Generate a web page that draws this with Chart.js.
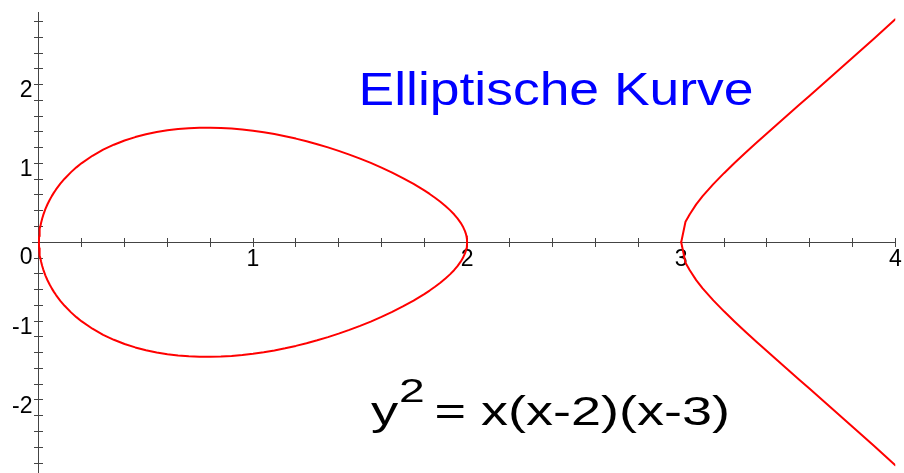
<!DOCTYPE html>
<html>
<head>
<meta charset="utf-8">
<script src="https://cdn.jsdelivr.net/npm/chart.js@4/dist/chart.umd.min.js"></script>
<style>
  html, body { margin: 0; padding: 0; background: #ffffff; }
  #wrap { width: 904px; height: 473px; }
</style>
</head>
<body>
<div id="wrap"><canvas id="c" width="904" height="473"></canvas></div>
<script>
// ---- data ----
const ovalX = [0, 0.001, 0.002, 0.003, 0.005, 0.007, 0.01, 0.015, 0.02, 0.03, 0.04, 0.05, 0.06, 0.07, 0.08, 0.1, 0.12, 0.15, 0.175, 0.2, 0.25, 0.3, 0.35, 0.4, 0.45, 0.5, 0.55, 0.6, 0.65, 0.7, 0.75, 0.8, 0.85, 0.9, 0.95, 1.0, 1.05, 1.1, 1.15, 1.2, 1.25, 1.3, 1.35, 1.4, 1.45, 1.5, 1.55, 1.6, 1.65, 1.7, 1.75, 1.8, 1.825, 1.85, 1.875, 1.9, 1.92, 1.94, 1.955, 1.97, 1.98, 1.99, 1.994, 1.997, 1.999, 2];
const ovalUpperY = [0, 0.0774, 0.1095, 0.134, 0.1728, 0.2043, 0.2439, 0.2981, 0.3435, 0.419, 0.4817, 0.5363, 0.585, 0.6292, 0.6697, 0.7423, 0.8061, 0.8893, 0.9499, 1.004, 1.0969, 1.1735, 1.2371, 1.29, 1.3337, 1.3693, 1.3978, 1.4199, 1.436, 1.4467, 1.4524, 1.4533, 1.4497, 1.4419, 1.43, 1.4142, 1.3947, 1.3715, 1.3448, 1.3145, 1.2809, 1.2438, 1.2033, 1.1593, 1.1118, 1.0607, 1.0057, 0.9466, 0.883, 0.8142, 0.7395, 0.6573, 0.6126, 0.5649, 0.5135, 0.4572, 0.4073, 0.3513, 0.3032, 0.2467, 0.201, 0.1418, 0.1097, 0.0775, 0.0447, 0];
const ovalLowerY = [0, -0.0774, -0.1095, -0.134, -0.1728, -0.2043, -0.2439, -0.2981, -0.3435, -0.419, -0.4817, -0.5363, -0.585, -0.6292, -0.6697, -0.7423, -0.8061, -0.8893, -0.9499, -1.004, -1.0969, -1.1735, -1.2371, -1.29, -1.3337, -1.3693, -1.3978, -1.4199, -1.436, -1.4467, -1.4524, -1.4533, -1.4497, -1.4419, -1.43, -1.4142, -1.3947, -1.3715, -1.3448, -1.3145, -1.2809, -1.2438, -1.2033, -1.1593, -1.1118, -1.0607, -1.0057, -0.9466, -0.883, -0.8142, -0.7395, -0.6573, -0.6126, -0.5649, -0.5135, -0.4572, -0.4073, -0.3513, -0.3032, -0.2467, -0.201, -0.1418, -0.1097, -0.0775, -0.0447, 0];

const branchX = [3, 3.02, 3.04, 3.07, 3.1, 3.15, 3.2, 3.25, 3.3, 3.35, 3.4, 3.45, 3.5, 3.55, 3.6, 3.7, 3.8, 3.9, 4.0];
const branchUpperY = [0, 0.26, 0.356, 0.48, 0.584, 0.737, 0.876, 1.008, 1.135, 1.258, 1.38, 1.5, 1.62, 1.74, 1.859, 2.098, 2.339, 2.582, 2.828];
const branchLowerY = [0, -0.26, -0.356, -0.48, -0.584, -0.737, -0.876, -1.008, -1.135, -1.258, -1.38, -1.5, -1.62, -1.74, -1.859, -2.098, -2.339, -2.582, -2.828];

// ---- ticks and labels ----
const xTickValues = [0.2, 0.4, 0.6, 0.8, 1, 1.2, 1.4, 1.6, 1.8, 2, 2.2, 2.4, 2.6, 2.8, 3, 3.2, 3.4, 3.6, 3.8, 4];
const yTickValues = [-2.8, -2.6, -2.4, -2.2, -2, -1.8, -1.6, -1.4, -1.2, -1, -0.8, -0.6, -0.4, -0.2, 0, 0.2, 0.4, 0.6, 0.8, 1, 1.2, 1.4, 1.6, 1.8, 2, 2.2, 2.4, 2.6, 2.8];
const xLabelValues = [1, 2, 3, 4];
const xLabelTexts = ['1', '2', '3', '4'];
const yLabelValues = [-2, -1, 1, 2];
const yLabelTexts = ['-2', '-1', '1', '2'];
const originTickValues = [0];
const originLabelTexts = ['0'];

const titleText = 'Elliptische Kurve';
const formulaBase = 'y';
const formulaSup = '2';
const formulaRest = '= x(x-2)(x-3)';

// ---- helpers ----
function pts(xs, ys) { return xs.map((x, i) => ({ x: x, y: ys[i] })); }
function labelFor(values, texts, v, suffix) {
  for (let i = 0; i < values.length; i++) {
    if (Math.abs(values[i] - v) < 1e-6) return texts[i] + suffix;
  }
  return '';
}

const FONT = "'Liberation Sans', Arial, Helvetica, sans-serif";
const AXIS_COLOR = '#444444';
const CURVE_COLOR = '#ff0000';

function curve(data) {
  return {
    data: data,
    showLine: true,
    borderColor: CURVE_COLOR,
    backgroundColor: CURVE_COLOR,
    borderWidth: 2,
    pointRadius: 0,
    pointHoverRadius: 0,
    tension: 0,
    fill: false,
    borderCapStyle: 'round',
    borderJoinStyle: 'round'
  };
}

const X_MIN = -0.03, X_MAX = 4;
const Y_MIN = -2.92, Y_MAX = 2.92;

function baseScale(o) {
  const axis = o.axis;
  return {
    type: 'linear',
    axis: axis,
    min: o.min,
    max: o.max,
    position: o.pos,
    afterFit: function (s) {
      if (axis === 'x') { s.height = 0; } else { s.width = 0; }
      s.paddingTop = 0; s.paddingBottom = 0; s.paddingLeft = 0; s.paddingRight = 0;
    },
    afterBuildTicks: function (s) { s.ticks = o.tickValues.map(v => ({ value: v })); },
    grid: {
      display: o.showGrid,
      drawOnChartArea: false,
      drawTicks: true,
      tickLength: o.tickLen,
      color: AXIS_COLOR,
      lineWidth: 1
    },
    border: { display: o.showBorder, color: AXIS_COLOR, width: 1 },
    ticks: {
      display: o.showLabels,
      autoSkip: false,
      maxRotation: 0,
      minRotation: 0,
      padding: 0,
      labelOffset: o.labelOffset,
      color: '#000000',
      font: { family: FONT, size: 23 },
      callback: function (v) { return labelFor(o.labelValues, o.labelTexts, v, axis === 'y' ? ' ' : ''); }
    }
  };
}

const textPlugin = {
  id: 'texts',
  afterDraw(chart) {
    const ctx = chart.ctx;
    ctx.save();
    // title
    ctx.fillStyle = '#0000ff';
    ctx.textBaseline = 'alphabetic';
    ctx.textAlign = 'left';
    ctx.font = '46px ' + FONT;
    const tw = ctx.measureText(titleText).width;
    const tsx = 395 / tw;
    ctx.translate(358.5, 105);
    ctx.scale(tsx, 1);
    ctx.fillText(titleText, 0, 0);
    ctx.restore();

    // formula
    ctx.save();
    ctx.fillStyle = '#000000';
    ctx.textBaseline = 'alphabetic';
    ctx.textAlign = 'left';
    const fsx = 1.36;
    ctx.translate(371, 425);
    ctx.scale(fsx, 1);
    ctx.font = '40px ' + FONT;
    ctx.fillText(formulaBase, 0, 0);
    const wy = ctx.measureText(formulaBase).width;
    ctx.font = '34px ' + FONT;
    ctx.fillText(formulaSup, wy + 0.5, -23.5);
    ctx.restore();

    ctx.save();
    ctx.fillStyle = '#000000';
    ctx.textBaseline = 'alphabetic';
    ctx.textAlign = 'left';
    ctx.translate(434.5, 425);
    ctx.scale(1.35, 1);
    ctx.font = '40px ' + FONT;
    ctx.fillText(formulaRest, 0, 0);
    ctx.restore();
  }
};

new Chart(document.getElementById('c'), {
  type: 'scatter',
  data: {
    datasets: [
      curve(pts(ovalX, ovalUpperY)),
      curve(pts(ovalX, ovalLowerY)),
      curve(pts(branchX, branchUpperY)),
      curve(pts(branchX, branchLowerY))
    ]
  },
  options: {
    responsive: false,
    animation: false,
    devicePixelRatio: 1,
    layout: { padding: { left: 32.5, right: 8.7, top: 12, bottom: 0.5 } },
    plugins: {
      legend: { display: false },
      title: { display: false },
      tooltip: { enabled: false }
    },
    scales: {
      x: baseScale({ axis: 'x', min: X_MIN, max: X_MAX, pos: { y: 0 }, tickValues: xTickValues, labelValues: xLabelValues, labelTexts: xLabelTexts, tickLen: 4, showGrid: true, showLabels: true, showBorder: true, labelOffset: 0 }),
      y: baseScale({ axis: 'y', min: Y_MIN, max: Y_MAX, pos: { x: 0 }, tickValues: yTickValues, labelValues: yLabelValues, labelTexts: yLabelTexts, tickLen: 4, showGrid: true, showLabels: true, showBorder: true, labelOffset: 6.5 }),
      x2: baseScale({ axis: 'x', min: X_MIN, max: X_MAX, pos: { y: 0 }, tickValues: xTickValues, labelValues: [], labelTexts: [], tickLen: -4, showGrid: true, showLabels: false, showBorder: false, labelOffset: 0 }),
      y2: baseScale({ axis: 'y', min: Y_MIN, max: Y_MAX, pos: { x: 0 }, tickValues: yTickValues, labelValues: [], labelTexts: [], tickLen: -4, showGrid: true, showLabels: false, showBorder: false, labelOffset: 0 }),
      y3: baseScale({ axis: 'y', min: Y_MIN, max: Y_MAX, pos: { x: 0 }, tickValues: originTickValues, labelValues: originTickValues, labelTexts: originLabelTexts, tickLen: 4, showGrid: false, showLabels: true, showBorder: false, labelOffset: 15 })
    }
  },
  plugins: [textPlugin]
});
</script>
</body>
</html>
